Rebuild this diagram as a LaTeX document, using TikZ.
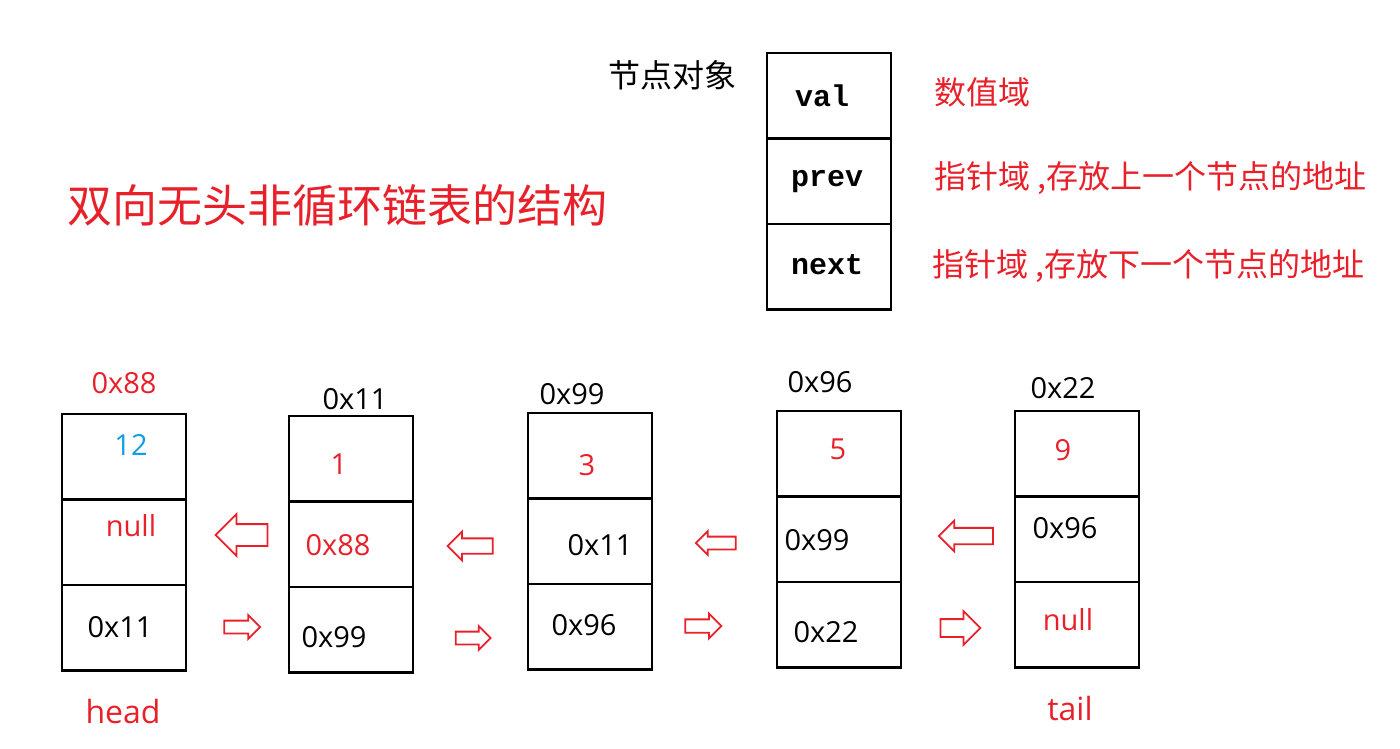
\documentclass[tikz,border=0pt]{standalone}
\usepackage{fontspec}
\setmainfont{Open Sans}
\setmonofont{Liberation Mono}
\newfontfamily\cjk{Noto Sans CJK SC}
\usetikzlibrary{shapes.arrows}
\definecolor{linkred}{RGB}{232,32,42}
\definecolor{valblue}{RGB}{18,158,228}
\tikzset{cell/.style={draw, line width=2.6pt, minimum width=124pt, minimum height=85.5pt,
    anchor=north west, inner sep=0pt, outer sep=0pt},
  num/.style={font=\fontsize{29}{32}\selectfont, inner sep=0pt},
  field/.style={font=\ttfamily\bfseries\fontsize{30}{32}\selectfont, inner sep=0pt},
  cn/.style={font=\cjk\fontsize{32}{36}\selectfont, inner sep=0pt},
  blk/.style 2 args={single arrow, draw=linkred, fill=white, line width=1.8pt,
    inner xsep=0pt, inner ysep=#2/4, single arrow head extend=#2/4,
    minimum height=#1, minimum width=#2},
  blkleft/.style 2 args={blk={#1}{#2}, shape border rotate=180}}

\begin{document}
\begin{tikzpicture}[x=1pt, y=-1pt]
  \useasboundingbox (0,0) rectangle (1400,749);
  % legend: one node object
  \node[cell] (ov) at (767,53) {};
  \node[cell] (op) at (ov.south west) {};
  \node[cell] (on) at (op.south west) {};
  \node[field] (ovt) at (822,96) {val};
  \node[field] (opt) at (827,182) {prev};
  \node[field] (ont) at (827,265) {next};
  \node[cn] (obj) at (672,75) {节点对象};
  \node[cn, text=linkred] (dv) at (982,92) {数值域};
  \node[cn, text=linkred, anchor=west] (dp) at (934,178) {指针域 ,存放上一个节点的地址};
  \node[cn, text=linkred, anchor=west] (dn) at (932,266) {指针域 ,存放下一个节点的地址};
  \node[cn, text=linkred, font=\cjk\fontsize{45}{50}\selectfont] (title) at (337,205)
    {双向无头非循环链表的结构};
  % the five list nodes
  \foreach \nm/\x/\y in {hd/62/414, na/289/416, nb/528/413, nc/777/411, tl/1015/411} {
    \node[cell] (\nm v) at (\x,\y) {};
    \node[cell] (\nm p) at (\nm v.south west) {};
    \node[cell] (\nm n) at (\nm p.south west) {};
  }
  \node[num, text=linkred] (hda) at (124,383) {0x88};
  \node[num, text=valblue] (hdvt) at (131,445) {12};
  \node[num, text=linkred] (hdpt) at (131,526) {null};
  \node[num] (hdnt) at (120,627) {0x11};
  \node[num, text=linkred, font=\fontsize{32}{36}\selectfont] (head) at (123,711) {head};

  \node[num] (naa) at (355,399) {0x11};
  \node[num, text=linkred] (navt) at (339,464) {1};
  \node[num, text=linkred] (napt) at (338,545) {0x88};
  \node[num] (nant) at (334,637) {0x99};

  \node[num] (nba) at (572,394) {0x99};
  \node[num, text=linkred] (nbvt) at (587,465) {3};
  \node[num] (nbpt) at (600,545) {0x11};
  \node[num] (nbnt) at (584,625) {0x96};

  \node[num] (nca) at (820,382) {0x96};
  \node[num, text=linkred] (ncvt) at (838,449) {5};
  \node[num] (ncpt) at (817,540) {0x99};
  \node[num] (ncnt) at (826,632) {0x22};

  \node[num] (tla) at (1063,388) {0x22};
  \node[num, text=linkred] (tlvt) at (1063,450) {9};
  \node[num] (tlpt) at (1065,528) {0x96};
  \node[num, text=linkred] (tlnt) at (1068,620) {null};
  \node[num, text=linkred, font=\fontsize{32}{36}\selectfont] (tail) at (1070,708) {tail};
  % prev / next arrows
  \node[blkleft={52}{40}] (pa) at (247,535) {};
  \node[blkleft={45}{27}] (pb) at (474,546) {};
  \node[blkleft={40}{22}] (pc) at (719,543) {};
  \node[blkleft={54}{29}] (pd) at (970,536) {};
  \node[blk={36}{22}] (xa) at (239,627) {};
  \node[blk={35}{22}] (xb) at (470,638) {};
  \node[blk={36}{23}] (xc) at (700,626) {};
  \node[blk={40}{32}] (xd) at (956,628) {};
\end{tikzpicture}
\end{document}
